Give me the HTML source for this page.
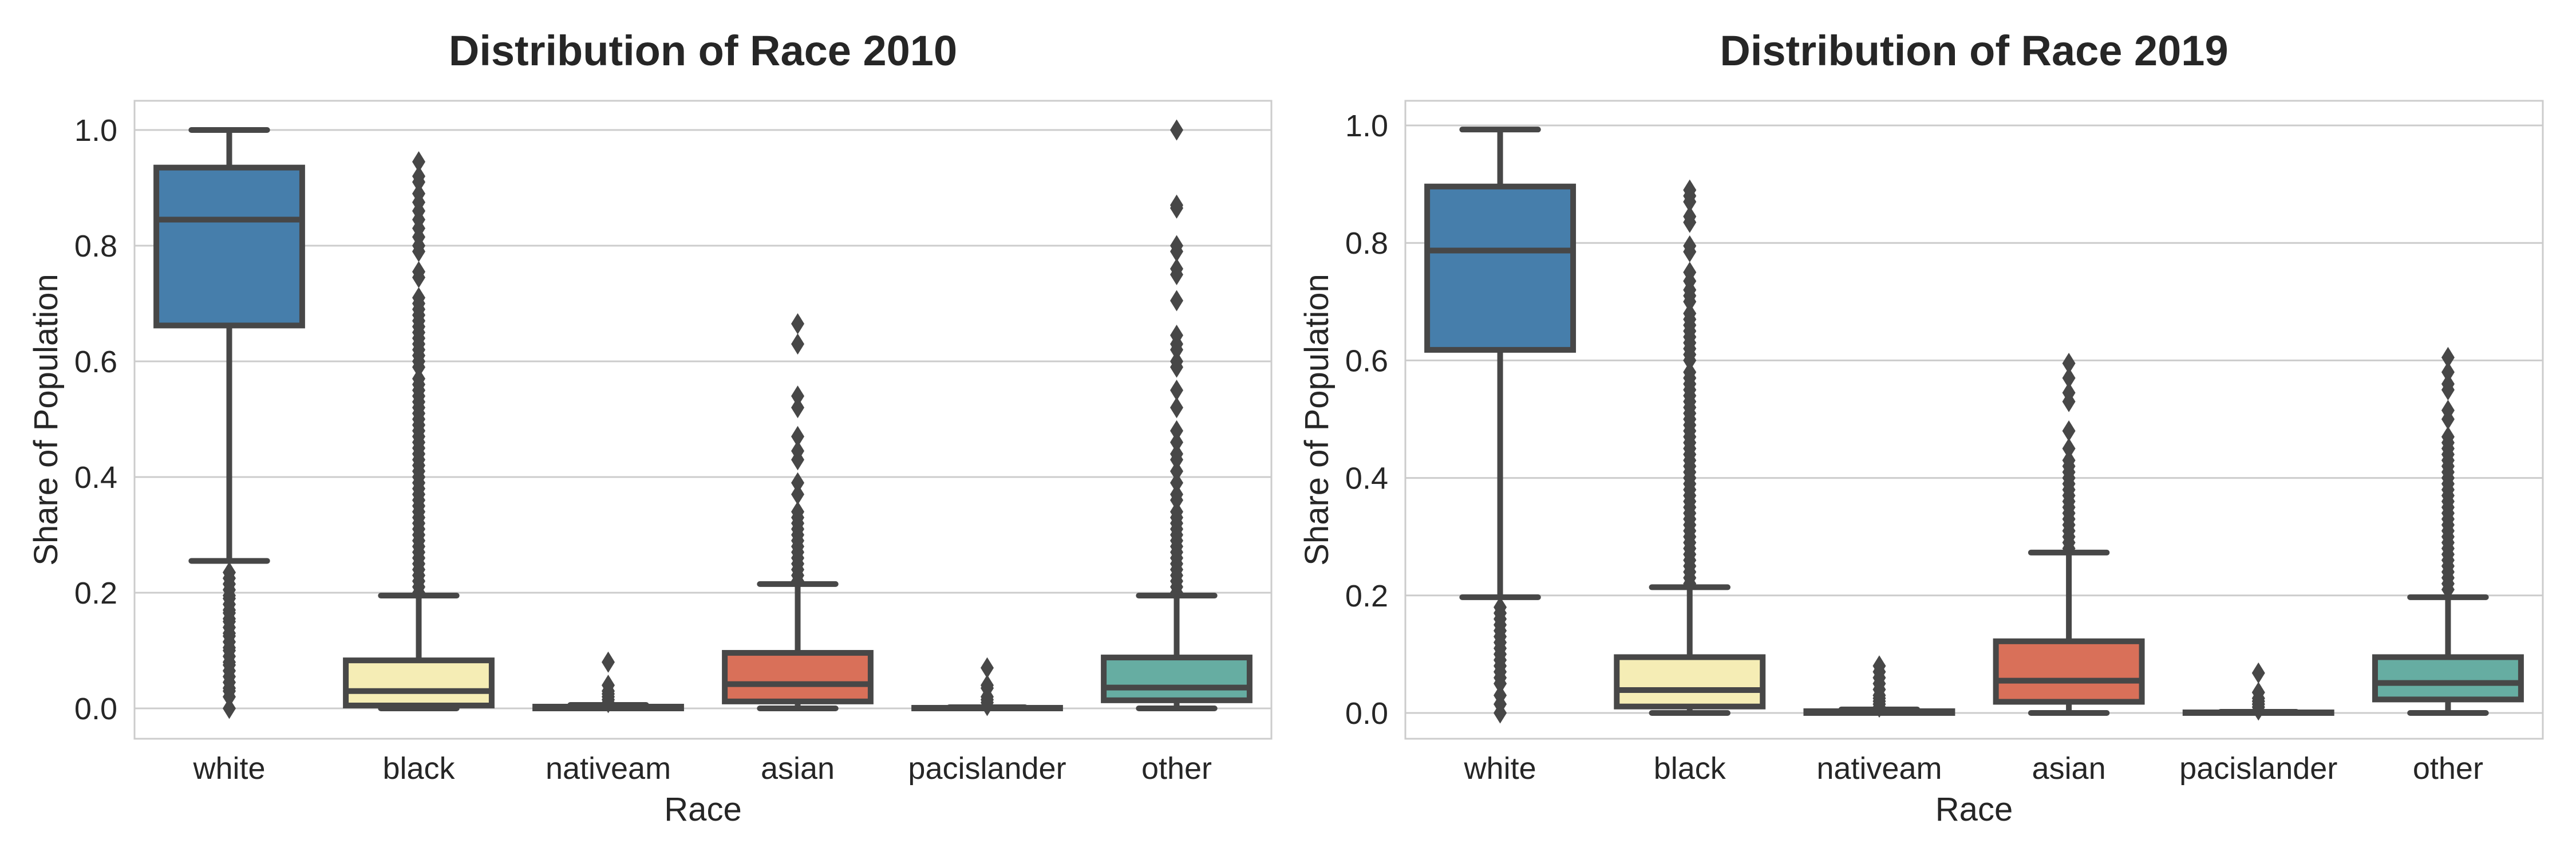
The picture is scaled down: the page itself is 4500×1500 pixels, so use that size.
<!DOCTYPE html>
<html><head><meta charset="utf-8"><style>
html,body{margin:0;padding:0;background:#fff;}
svg{display:block;font-family:"Liberation Sans",Arial,sans-serif;}
</style></head><body>
<svg id="chart" width="4500" height="1500" viewBox="0 0 4500 1500" xmlns="http://www.w3.org/2000/svg"></svg>
<script>
const categories = ["white","black","nativeam","asian","pacislander","other"];
const colors = ["#467eab","#f5edb5","#8fc7a5","#d97059","#f2e0a0","#66ada2"];
const yTicks = [0.0,0.2,0.4,0.6,0.8,1.0];
const yTickLabels = ["0.0","0.2","0.4","0.6","0.8","1.0"];

// 2010 stats: [whislo, q1, median, q3, whishi]
const stats2010 = [
  [0.255,0.662,0.845,0.935,1.0],
  [0.0,0.005,0.03,0.083,0.195],
  [0.0,0.0,0.001,0.003,0.006],
  [0.0,0.012,0.042,0.096,0.215],
  [0.0,0.0,0.0,0.001,0.002],
  [0.0,0.014,0.036,0.088,0.195]
];
const outliers2010 = [
  [0.235,0.225,0.215,0.205,0.195,0.19,0.18,0.17,0.165,0.155,0.15,0.14,0.13,0.125,0.115,0.105,0.1,0.09,0.08,0.075,0.065,0.055,0.045,0.035,0.03,0.02,0.0],
  [0.2,0.21,0.22,0.23,0.24,0.25,0.26,0.27,0.28,0.29,0.3,0.31,0.32,0.33,0.34,0.35,0.36,0.37,0.38,0.39,0.4,0.41,0.42,0.43,0.44,0.45,0.46,0.47,0.48,0.49,0.5,0.51,0.52,0.53,0.54,0.55,0.56,0.57,0.59,0.6,0.61,0.62,0.63,0.64,0.65,0.66,0.67,0.68,0.69,0.7,0.71,0.745,0.755,0.79,0.8,0.815,0.83,0.845,0.86,0.875,0.89,0.91,0.92,0.945],
  [0.01,0.015,0.02,0.025,0.03,0.04,0.08],
  [0.22,0.23,0.24,0.25,0.26,0.27,0.28,0.29,0.3,0.31,0.32,0.33,0.34,0.37,0.39,0.43,0.445,0.47,0.52,0.54,0.63,0.665],
  [0.005,0.01,0.015,0.02,0.035,0.04,0.07],
  [0.2,0.21,0.22,0.23,0.24,0.25,0.26,0.27,0.28,0.29,0.3,0.31,0.32,0.33,0.34,0.36,0.37,0.39,0.41,0.43,0.44,0.46,0.48,0.52,0.55,0.59,0.6,0.62,0.63,0.645,0.705,0.75,0.76,0.79,0.8,0.865,0.87,1.0]
];

// 2019 stats
const stats2019 = [
  [0.197,0.618,0.787,0.896,0.993],
  [0.0,0.011,0.039,0.095,0.214],
  [0.0,0.0,0.001,0.003,0.006],
  [0.0,0.019,0.055,0.122,0.273],
  [0.0,0.0,0.0,0.001,0.002],
  [0.0,0.023,0.051,0.095,0.197]
];
const outliers2019 = [
  [0.18,0.17,0.16,0.15,0.14,0.13,0.12,0.11,0.1,0.09,0.08,0.07,0.06,0.05,0.03,0.015,0.0],
  [0.22,0.23,0.24,0.25,0.26,0.27,0.28,0.29,0.3,0.31,0.32,0.33,0.34,0.35,0.36,0.37,0.38,0.39,0.4,0.41,0.42,0.43,0.44,0.45,0.46,0.47,0.48,0.49,0.5,0.51,0.52,0.53,0.54,0.55,0.56,0.57,0.58,0.6,0.61,0.62,0.63,0.64,0.65,0.66,0.67,0.68,0.7,0.71,0.72,0.735,0.75,0.785,0.795,0.835,0.845,0.87,0.88,0.89],
  [0.01,0.015,0.02,0.025,0.03,0.04,0.05,0.06,0.07,0.08],
  [0.28,0.29,0.3,0.31,0.32,0.33,0.34,0.35,0.36,0.37,0.38,0.39,0.4,0.41,0.42,0.43,0.45,0.48,0.53,0.545,0.57,0.595],
  [0.005,0.01,0.015,0.02,0.025,0.035,0.068],
  [0.21,0.22,0.23,0.24,0.25,0.26,0.27,0.28,0.29,0.3,0.31,0.32,0.33,0.34,0.35,0.36,0.37,0.38,0.39,0.4,0.41,0.42,0.43,0.44,0.45,0.46,0.47,0.5,0.515,0.55,0.56,0.58,0.605]
];

const NS="http://www.w3.org/2000/svg";
const svg=document.getElementById('chart');
function mk(tag,attrs,parent){const e=document.createElementNS(NS,tag);for(const k in attrs)e.setAttribute(k,attrs[k]);(parent||svg).appendChild(e);return e;}
const LC="#474747", LW=10;

function panel(title, stats, outs, left, right, y0px, pxPerUnit, key){
  const top=176, bottom=1290;
  const g=mk('g',{});
  
  
  const yS=v=>y0px-pxPerUnit*v;
  const band=(right-left)/categories.length;
  const xS=i=>left+band*(i+0.5);
  const fr=mk('rect',{x:left,y:top,width:right-left,height:bottom-top,fill:'none',stroke:'#cccccc','stroke-width':3},g);
  
  
  yTicks.forEach((t,i)=>{
    const gl=mk('line',{x1:left,x2:right,y1:yS(t),y2:yS(t),stroke:'#cccccc','stroke-width':3},g);
    
    
    const tx=mk('text',{x:left-30,y:yS(t)+19,'text-anchor':'end','font-size':54,fill:'#262626'},g);
    tx.textContent=yTickLabels[i];
    
    
  });
  stats.forEach((s,i)=>{
    const cx=xS(i), w=band*0.8-LW, cw=band*0.4;
    const bg=mk('g',{},g);
    
    
    const ln=(x1,y1,x2,y2,cap)=>mk('line',{x1,y1,x2,y2,stroke:LC,'stroke-width':LW,'stroke-linecap':cap||'butt'},bg);
    ln(cx,yS(s[0]),cx,yS(s[1]));
    ln(cx,yS(s[3]),cx,yS(s[4]));
    ln(cx-cw/2,yS(s[0]),cx+cw/2,yS(s[0]),'round');
    ln(cx-cw/2,yS(s[4]),cx+cw/2,yS(s[4]),'round');
    const h=Math.max(yS(s[1])-yS(s[3]),0.01);
    mk('rect',{x:cx-w/2,y:yS(s[3]),width:w,height:h,fill:colors[i],stroke:LC,'stroke-width':LW},bg);
    ln(cx-w/2,yS(s[2]),cx+w/2,yS(s[2]));
    outs[i].forEach(v=>{
      const y=yS(v);
      const d=mk('polygon',{points:`${cx},${y-18.5} ${cx+11.5},${y} ${cx},${y+18.5} ${cx-11.5},${y}`,fill:LC},bg);
      
      
    });
    const xl=mk('text',{x:cx,y:1360,'text-anchor':'middle','font-size':54,fill:'#262626'},g);
    xl.textContent=categories[i];
    
    
  });
  const tt=mk('text',{x:(left+right)/2,y:114,'text-anchor':'middle','font-size':74,'font-weight':'bold',fill:'#262626'},g);
  tt.textContent=title;
  
  
  const xa=mk('text',{x:(left+right)/2,y:1433,'text-anchor':'middle','font-size':58,fill:'#262626'},g);
  xa.textContent='Race';
  
  
  const yax=left-135, yay=(top+bottom)/2;
  const ya=mk('text',{x:yax,y:yay,'text-anchor':'middle','font-size':58,fill:'#262626',transform:`rotate(-90 ${yax} ${yay})`},g);
  ya.textContent='Share of Population';
  
  
}
panel('Distribution of Race 2010',stats2010,outliers2010,235,2221,1237,1010,'2010');
panel('Distribution of Race 2019',stats2019,outliers2019,2455,4442,1245,1026,'2019');
</script>
</body></html>
